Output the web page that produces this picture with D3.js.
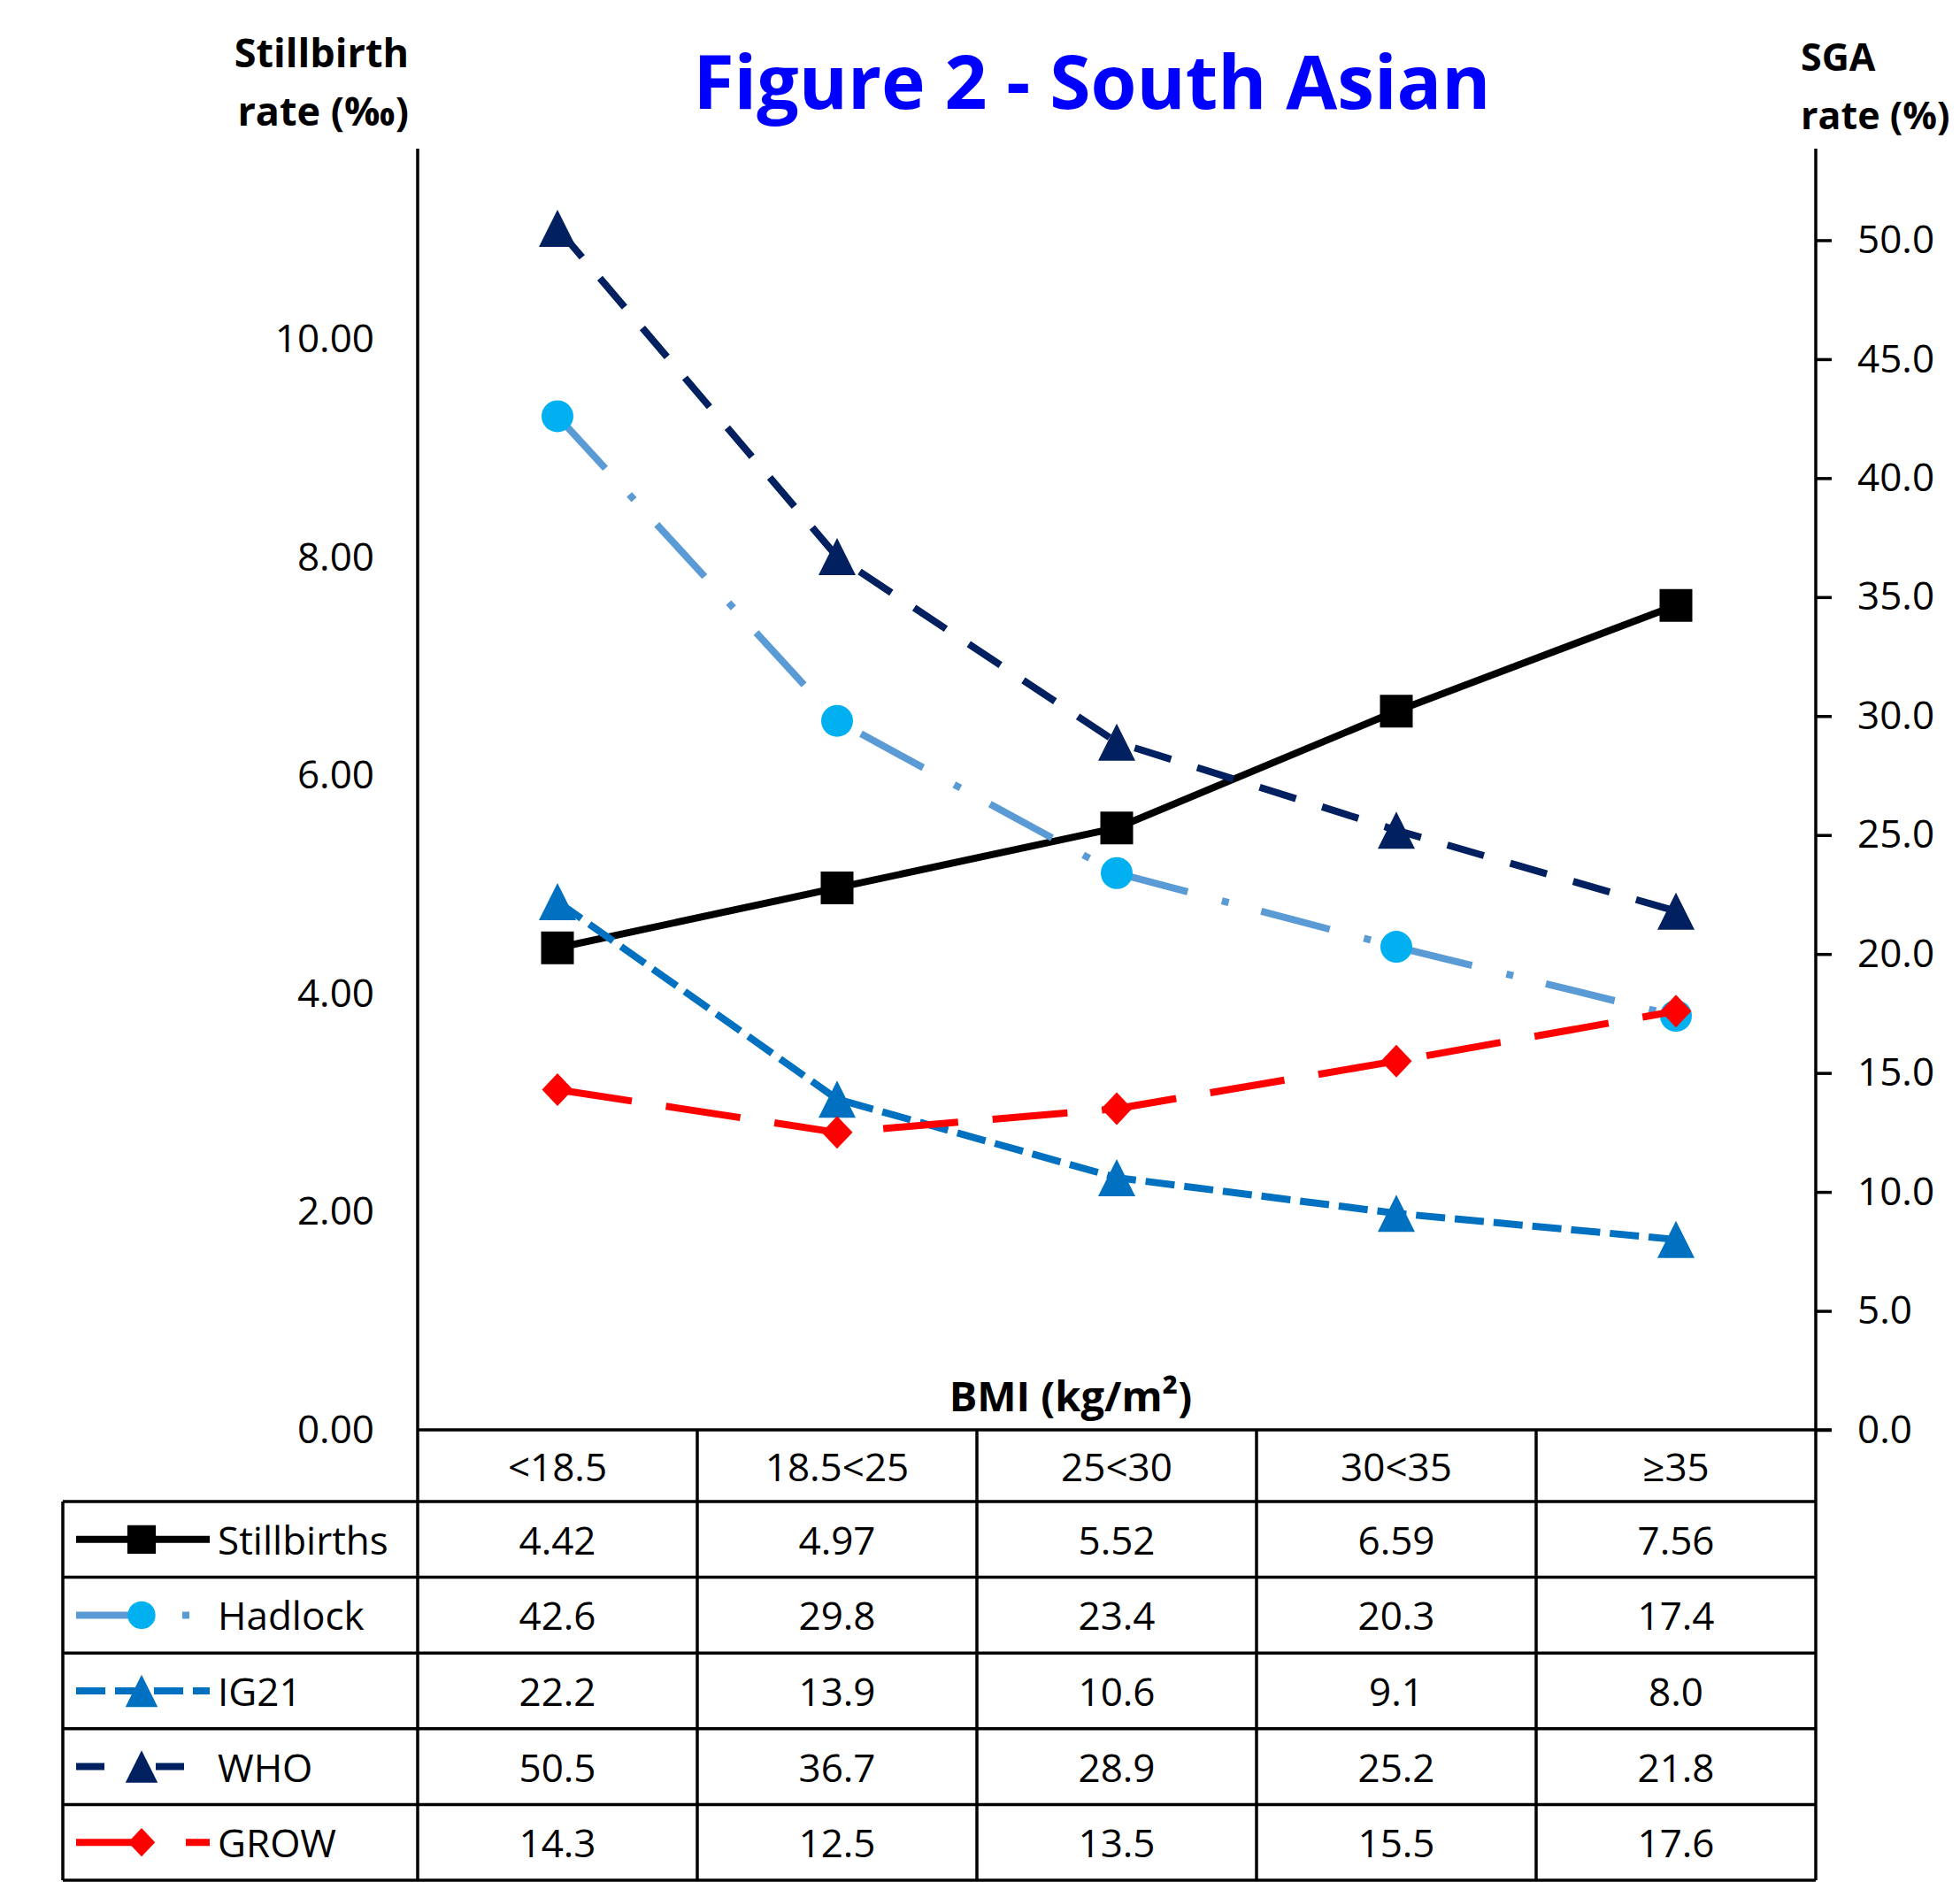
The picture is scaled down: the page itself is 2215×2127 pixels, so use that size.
<!DOCTYPE html>
<html>
<head>
<meta charset="utf-8">
<script src="https://d3js.org/d3.v7.min.js"></script>
<style>
  body { margin: 0; background: #fff; }
  text { font-family: "Open Sans", sans-serif; fill: #000; }
</style>
</head>
<body>
<svg id="chart" width="2215" height="2127"></svg>
<script>
// data
const categories = ["<18.5", "18.5<25", "25<30", "30<35", "≥35"];
const stillbirths = [4.42, 4.97, 5.52, 6.59, 7.56];
const hadlock = [42.6, 29.8, 23.4, 20.3, 17.4];
const ig21 = [22.2, 13.9, 10.6, 9.1, 8.0];
const who = [50.5, 36.7, 28.9, 25.2, 21.8];
const grow = [14.3, 12.5, 13.5, 15.5, 17.6];
const leftTicks = [0, 2, 4, 6, 8, 10];
const rightTicks = [0, 5, 10, 15, 20, 25, 30, 35, 40, 45, 50];

const series = [
  {name: "Stillbirths", values: stillbirths, axis: "left", line: "#000000", marker: "#000000", shape: "square", dash: null, keyDash: null, fmt: ".2f"},
  {name: "Hadlock", values: hadlock, axis: "right", line: "#5B9BD5", marker: "#00B0F0", shape: "circle", dash: "80 40 8 38", keyDash: "80 40 8 38", fmt: ".1f"},
  {name: "IG21", values: ig21, axis: "right", line: "#0070C0", marker: "#0070C0", shape: "triangle", dash: "33 11", keyDash: "33 11", fmt: ".1f"},
  {name: "WHO", values: who, axis: "right", line: "#002060", marker: "#002060", shape: "triangle", dash: "43 31", keyDash: "32 58", fmt: ".1f"},
  {name: "GROW", values: grow, axis: "right", line: "#FF0000", marker: "#FF0000", shape: "diamond", dash: "85 39", keyDash: "85 39", fmt: ".1f"}
];

const svg = d3.select("#chart");

// layout
const plotLeft = 472, plotRight = 2052;
const axisTop = 168, xAxisY = 1616, tableBottom = 2125, tableLeft = 71;

const x = d3.scaleBand().domain(categories).range([plotLeft, plotRight]);
const yLeft = d3.scaleLinear().domain([0, 12]).range([xAxisY, 137]);
const yRight = d3.scaleLinear().domain([0, 55]).range([xAxisY, 137]);
const rowY = d3.scaleBand().domain(series.map(d => d.name)).range([1697, tableBottom]);

function markerPath(shape, k) {
  if (shape === "square") { const h = 18.5 * k; return `M${-h},${-h}H${h}V${h}H${-h}Z`; }
  if (shape === "circle") { const r = 18 * k; return `M${r},0A${r},${r} 0 1,1 ${-r},0A${r},${r} 0 1,1 ${r},0Z`; }
  if (shape === "triangle") { const w = 21 * k, h = 21 * k; return `M0,${-h}L${w},${h}L${-w},${h}Z`; }
  if (shape === "diamond") { const w = 17.5 * k, h = 18.5 * k; return `M0,${-h}L${w},0L0,${h}L${-w},0Z`; }
}

// title
svg.append("text")
  .attr("x", 1234).attr("y", 123)
  .attr("text-anchor", "middle")
  .style("font-size", "84px").style("font-weight", "bold").style("fill", "#0000FF")
  .text("Figure 2 - South Asian");

// axis titles
const leftTitle = svg.append("text").attr("text-anchor", "end")
  .style("font-size", "45px").style("font-weight", "bold");
leftTitle.append("tspan").attr("x", 462).attr("y", 76).text("Stillbirth");
leftTitle.append("tspan").attr("x", 462).attr("y", 142).text("rate (‰)");

const rightTitle = svg.append("text").attr("text-anchor", "start")
  .style("font-size", "43px").style("font-weight", "bold");
rightTitle.append("tspan").attr("x", 2035).attr("y", 80).text("SGA");
rightTitle.append("tspan").attr("x", 2035).attr("y", 146).text("rate (%)");

svg.append("text")
  .attr("x", 1210).attr("y", 1595)
  .attr("text-anchor", "middle")
  .style("font-size", "47px").style("font-weight", "bold")
  .text("BMI (kg/m²)");

// left axis: labels only
const gL = svg.append("g").attr("transform", `translate(${plotLeft},0)`)
  .call(d3.axisLeft(yLeft).tickValues(leftTicks).tickSize(0).tickPadding(49).tickFormat(d3.format(".2f")));
gL.select(".domain").remove();
gL.selectAll("text").style("font-size", "44px").style("font-family", "'Open Sans', sans-serif").attr("fill", "#000");

// right axis with outward ticks
const gR = svg.append("g").attr("transform", `translate(${plotRight},0)`)
  .call(d3.axisRight(yRight).tickValues(rightTicks).tickSize(18).tickPadding(29).tickFormat(d3.format(".1f")));
gR.select(".domain").remove();
gR.selectAll("line").attr("stroke", "#000").attr("stroke-width", 3.5);
gR.selectAll("text").style("font-size", "44px").style("font-family", "'Open Sans', sans-serif").attr("fill", "#000");

// series lines and markers
series.forEach(s => {
  const yS = s.axis === "left" ? yLeft : yRight;
  const pts = s.values.map((v, i) => [x(categories[i]) + x.bandwidth() / 2, yS(v)]);
  const g = svg.append("g");
  g.append("path")
    .attr("d", d3.line()(pts))
    .attr("fill", "none")
    .attr("stroke", s.line)
    .attr("stroke-width", 8)
    .attr("stroke-linejoin", "round")
    .attr("stroke-dasharray", s.dash);
  g.selectAll("path.mk").data(pts).enter().append("path")
    .attr("class", "mk")
    .attr("d", markerPath(s.shape, 1))
    .attr("transform", d => `translate(${d[0]},${d[1]})`)
    .attr("fill", s.marker);
});

// table grid
const grid = svg.append("g").attr("stroke", "#000").attr("stroke-width", 3.5).attr("fill", "none");
// axis verticals
grid.append("line").attr("x1", plotLeft).attr("x2", plotLeft).attr("y1", axisTop).attr("y2", tableBottom);
grid.append("line").attr("x1", plotRight).attr("x2", plotRight).attr("y1", axisTop).attr("y2", tableBottom);
// category dividers
categories.slice(1).forEach(c => {
  grid.append("line").attr("x1", x(c)).attr("x2", x(c)).attr("y1", xAxisY).attr("y2", tableBottom);
});
grid.append("line").attr("x1", tableLeft).attr("x2", tableLeft).attr("y1", rowY.range()[0]).attr("y2", tableBottom);
// horizontals
grid.append("line").attr("x1", plotLeft).attr("x2", plotRight + 18).attr("y1", xAxisY).attr("y2", xAxisY);
series.forEach(s => {
  grid.append("line").attr("x1", tableLeft).attr("x2", plotRight).attr("y1", rowY(s.name)).attr("y2", rowY(s.name));
});
grid.append("line").attr("x1", tableLeft).attr("x2", plotRight).attr("y1", tableBottom).attr("y2", tableBottom);

// header labels
svg.append("g").selectAll("text").data(categories).enter().append("text")
  .attr("x", d => x(d) + x.bandwidth() / 2)
  .attr("y", (xAxisY + rowY.range()[0]) / 2)
  .attr("text-anchor", "middle").attr("dominant-baseline", "central")
  .style("font-size", "44px")
  .text(d => d);

// table rows
series.forEach(s => {
  const cy = rowY(s.name) + rowY.bandwidth() / 2;
  const row = svg.append("g");
  row.selectAll("text").data(s.values).enter().append("text")
    .attr("x", (d, i) => x(categories[i]) + x.bandwidth() / 2)
    .attr("y", cy)
    .attr("text-anchor", "middle").attr("dominant-baseline", "central")
    .style("font-size", "44px")
    .text(d => d3.format(s.fmt)(d));
  // legend key
  row.append("line")
    .attr("x1", 86).attr("x2", 237).attr("y1", cy).attr("y2", cy)
    .attr("stroke", s.line).attr("stroke-width", 8)
    .attr("stroke-dasharray", s.keyDash);
  row.append("path")
    .attr("d", markerPath(s.shape, 0.87))
    .attr("transform", `translate(160,${cy})`)
    .attr("fill", s.marker);
  row.append("text")
    .attr("x", 246).attr("y", cy)
    .attr("dominant-baseline", "central")
    .style("font-size", "44px")
    .text(s.name);
});
</script>
</body>
</html>
